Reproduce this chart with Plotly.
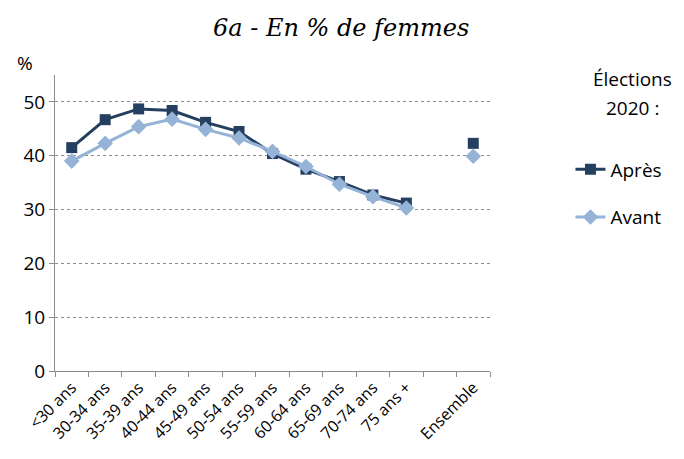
import plotly.graph_objects as go

categories = ["<30 ans", "30-34 ans", "35-39 ans", "40-44 ans", "45-49 ans", "50-54 ans",
              "55-59 ans", "60-64 ans", "65-69 ans", "70-74 ans", "75 ans +", " ", "Ensemble"]
apres = [41.5, 46.7, 48.7, 48.4, 46.2, 44.5, 40.4, 37.5, 35.2, 32.7, 31.2, None, 42.3]
avant = [39.0, 42.3, 45.4, 46.8, 44.9, 43.3, 40.8, 38.0, 34.7, 32.4, 30.3, None, 39.9]
y_ticks = [0, 10, 20, 30, 40, 50]

fig = go.Figure()
fig.add_trace(go.Scatter(
    x=categories, y=apres, name="Après", mode="lines+markers", legendgroup="a",
    line=dict(color="#243F60", width=3),
    marker=dict(symbol="square", size=11, color="#243F60"),
    connectgaps=False,
))
fig.add_trace(go.Scatter(
    x=categories, y=avant, name="Avant", mode="lines+markers", legendgroup="b",
    line=dict(color="#95B3D7", width=3),
    marker=dict(symbol="diamond", size=12, color="#95B3D7"),
    connectgaps=False,
))

fig.update_layout(
    width=684, height=459,
    margin=dict(l=47, r=202, t=67, b=96, autoexpand=False),
    paper_bgcolor="white", plot_bgcolor="white",
    font=dict(family="Open Sans, Lato, Liberation Sans, sans-serif", color="black"),
    title=dict(text="<i>6a - En % de femmes</i>", x=0.487, xanchor="center", y=0.958, yanchor="middle",
               font=dict(family="DejaVu Serif", size=24, color="black")),
    xaxis=dict(
        type="category", categoryorder="array", categoryarray=categories,
        tickson="boundaries", ticks="outside", ticklen=5, tickcolor="#8c8c8c",
        showline=True, linecolor="#8c8c8c", linewidth=1, automargin=False,
        showgrid=False, tickangle=-45, tickfont=dict(size=16),
        range=[-0.5, 12.5],
    ),
    yaxis=dict(
        range=[0, 55], tickvals=y_ticks, ticks="outside", ticklen=5, tickcolor="#8c8c8c",
        showline=True, linecolor="#8c8c8c", linewidth=1, automargin=False,
        showgrid=True, gridcolor="#8c8c8c", griddash="dot", gridwidth=1,
        zeroline=False, tickfont=dict(size=19),
    ),
    legend=dict(
        x=1.185, y=0.745, xanchor="left", yanchor="top",
        font=dict(size=19), tracegroupgap=20,
        bgcolor="rgba(0,0,0,0)",
    ),
    annotations=[
        dict(text="%", x=-0.07, y=1.04, xref="paper", yref="paper",
             xanchor="center", yanchor="middle", showarrow=False, font=dict(size=19)),
        dict(text="Élections", x=1.327, y=0.985, xref="paper", yref="paper",
             xanchor="center", yanchor="middle", showarrow=False, font=dict(size=19)),
        dict(text="2020 :", x=1.327, y=0.89, xref="paper", yref="paper",
             xanchor="center", yanchor="middle", showarrow=False, font=dict(size=19)),
    ],
)

fig.write_html("out.html")
